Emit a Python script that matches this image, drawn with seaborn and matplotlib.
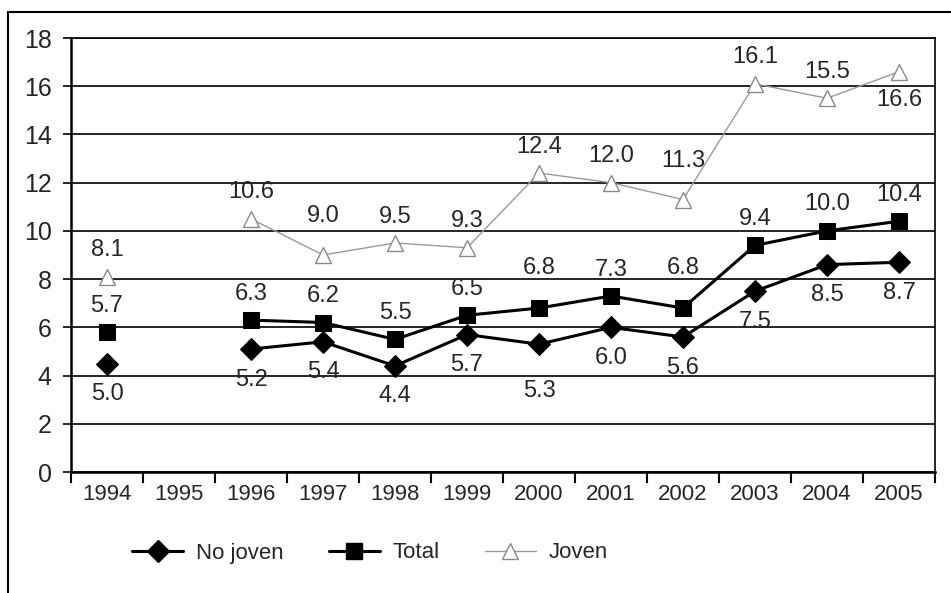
import numpy as np
import pandas as pd
import matplotlib
matplotlib.use("Agg")
import matplotlib.pyplot as plt
from matplotlib.lines import Line2D
from matplotlib.patches import Rectangle
import seaborn as sns

years = [1994, 1995, 1996, 1997, 1998, 1999, 2000, 2001, 2002, 2003, 2004, 2005]
no_joven = [4.5, np.nan, 5.1, 5.4, 4.4, 5.7, 5.3, 6.0, 5.6, 7.5, 8.6, 8.7]
total = [5.8, np.nan, 6.3, 6.2, 5.5, 6.5, 6.8, 7.3, 6.8, 9.4, 10.0, 10.4]
joven = [8.1, np.nan, 10.5, 9.0, 9.5, 9.3, 12.4, 12.0, 11.3, 16.1, 15.5, 16.6]
no_joven_lbl = ["5.0", "", "5.2", "5.4", "4.4", "5.7", "5.3", "6.0", "5.6", "7.5", "8.5", "8.7"]
total_lbl = ["5.7", "", "6.3", "6.2", "5.5", "6.5", "6.8", "7.3", "6.8", "9.4", "10.0", "10.4"]
joven_lbl = ["8.1", "", "10.6", "9.0", "9.5", "9.3", "12.4", "12.0", "11.3", "16.1", "15.5", "16.6"]

sns.set_style("white")
plt.rcParams['font.family'] = ['Liberation Sans', 'DejaVu Sans']

def to_long(vals):
    df = pd.DataFrame({"anio": years, "valor": vals})
    # segment id so the line breaks at the missing year
    df["seg"] = df["valor"].isna().cumsum()
    return df.dropna()

fig = plt.figure(figsize=(9.51, 5.93), dpi=100)
ax = fig.add_axes([71/951, 1-472/593, (935-71)/951, (472-38)/593])

series = [
    ("No joven", no_joven, no_joven_lbl, dict(color="black", lw=2.2, marker="D", markersize=11,
                                          markerfacecolor="black", markeredgecolor="black")),
    ("Total", total, total_lbl, dict(color="black", lw=2.2, marker="s", markersize=12,
                                     markerfacecolor="black", markeredgecolor="black")),
    ("Joven", joven, joven_lbl, dict(color="#9a9a9a", lw=1.0, marker="^", markersize=11,
                                     markerfacecolor="white", markeredgecolor="#8a8a8a",
                                     markeredgewidth=1.0)),
]

for name, vals, lbls, kw in series:
    sns.lineplot(data=to_long(vals), x="anio", y="valor", units="seg", estimator=None,
                 ax=ax, legend=False, zorder=3, **kw)

fs = 17
# data labels
for x, v, t in zip(years, no_joven, no_joven_lbl):
    if t:
        dy = -34 if x == 2000 else -22
        ax.annotate(t, (x, v), xytext=(0, dy), textcoords="offset points",
                    ha="center", va="center", fontsize=fs)
for x, v, t in zip(years, total, total_lbl):
    if t:
        dy = 29 if x in (2000, 2002) else 19
        ax.annotate(t, (x, v), xytext=(0, dy), textcoords="offset points",
                    ha="center", va="center", fontsize=fs)
for x, v, t in zip(years, joven, joven_lbl):
    if t:
        dy = -20 if x == 2005 else 19
        if x in (1997, 2002):
            dy = 28
        ax.annotate(t, (x, v), xytext=(0, dy), textcoords="offset points",
                    ha="center", va="center", fontsize=fs)

ax.set_xlim(1993.5, 2005.5)
ax.set_ylim(0, 18)
ax.set_yticks(range(0, 19, 2))
ax.set_xticks(years)
ax.set_xticklabels([str(y) for y in years], fontsize=16)
ax.set_xticks(np.arange(1993.5, 2005.6, 1), minor=True)
ax.tick_params(axis="x", which="major", bottom=True, length=0, pad=9)
ax.tick_params(axis="x", which="minor", bottom=True, length=8, width=1.5, direction="out", color="black")
ax.tick_params(axis="y", left=True, length=6, width=1.2, direction="out", color="black", labelsize=18, pad=8)
ax.yaxis.grid(True, color="black", lw=1.2)
ax.set_axisbelow(True)
for s in ax.spines.values():
    s.set_color("black")
    s.set_linewidth(1.2)
ax.spines["bottom"].set_linewidth(1.8)
ax.spines["left"].set_linewidth(1.8)
ax.set_xlabel("")
ax.set_ylabel("")

handles = [
    Line2D([], [], color="black", lw=2.2, marker="D", markersize=11),
    Line2D([], [], color="black", lw=2.2, marker="s", markersize=12),
    Line2D([], [], color="#9a9a9a", lw=1.0, marker="^", markersize=11,
           markerfacecolor="white", markeredgecolor="#8a8a8a"),
]
fig.legend(handles, ["No joven", "Total", "Joven"], loc="center left", ncol=3,
           bbox_to_anchor=(132/951, 1-553/593), frameon=False, fontsize=16,
           borderpad=0, borderaxespad=0,
           handlelength=2.3, columnspacing=2.0, handletextpad=0.6)

# outer frame of the scanned figure
fig.patches.append(Rectangle((8/951, -0.1), 1.2, 1.1 - 12/593, transform=fig.transFigure,
                             fill=False, edgecolor="black", lw=1.5))

fig.savefig("out.png", dpi=100)
